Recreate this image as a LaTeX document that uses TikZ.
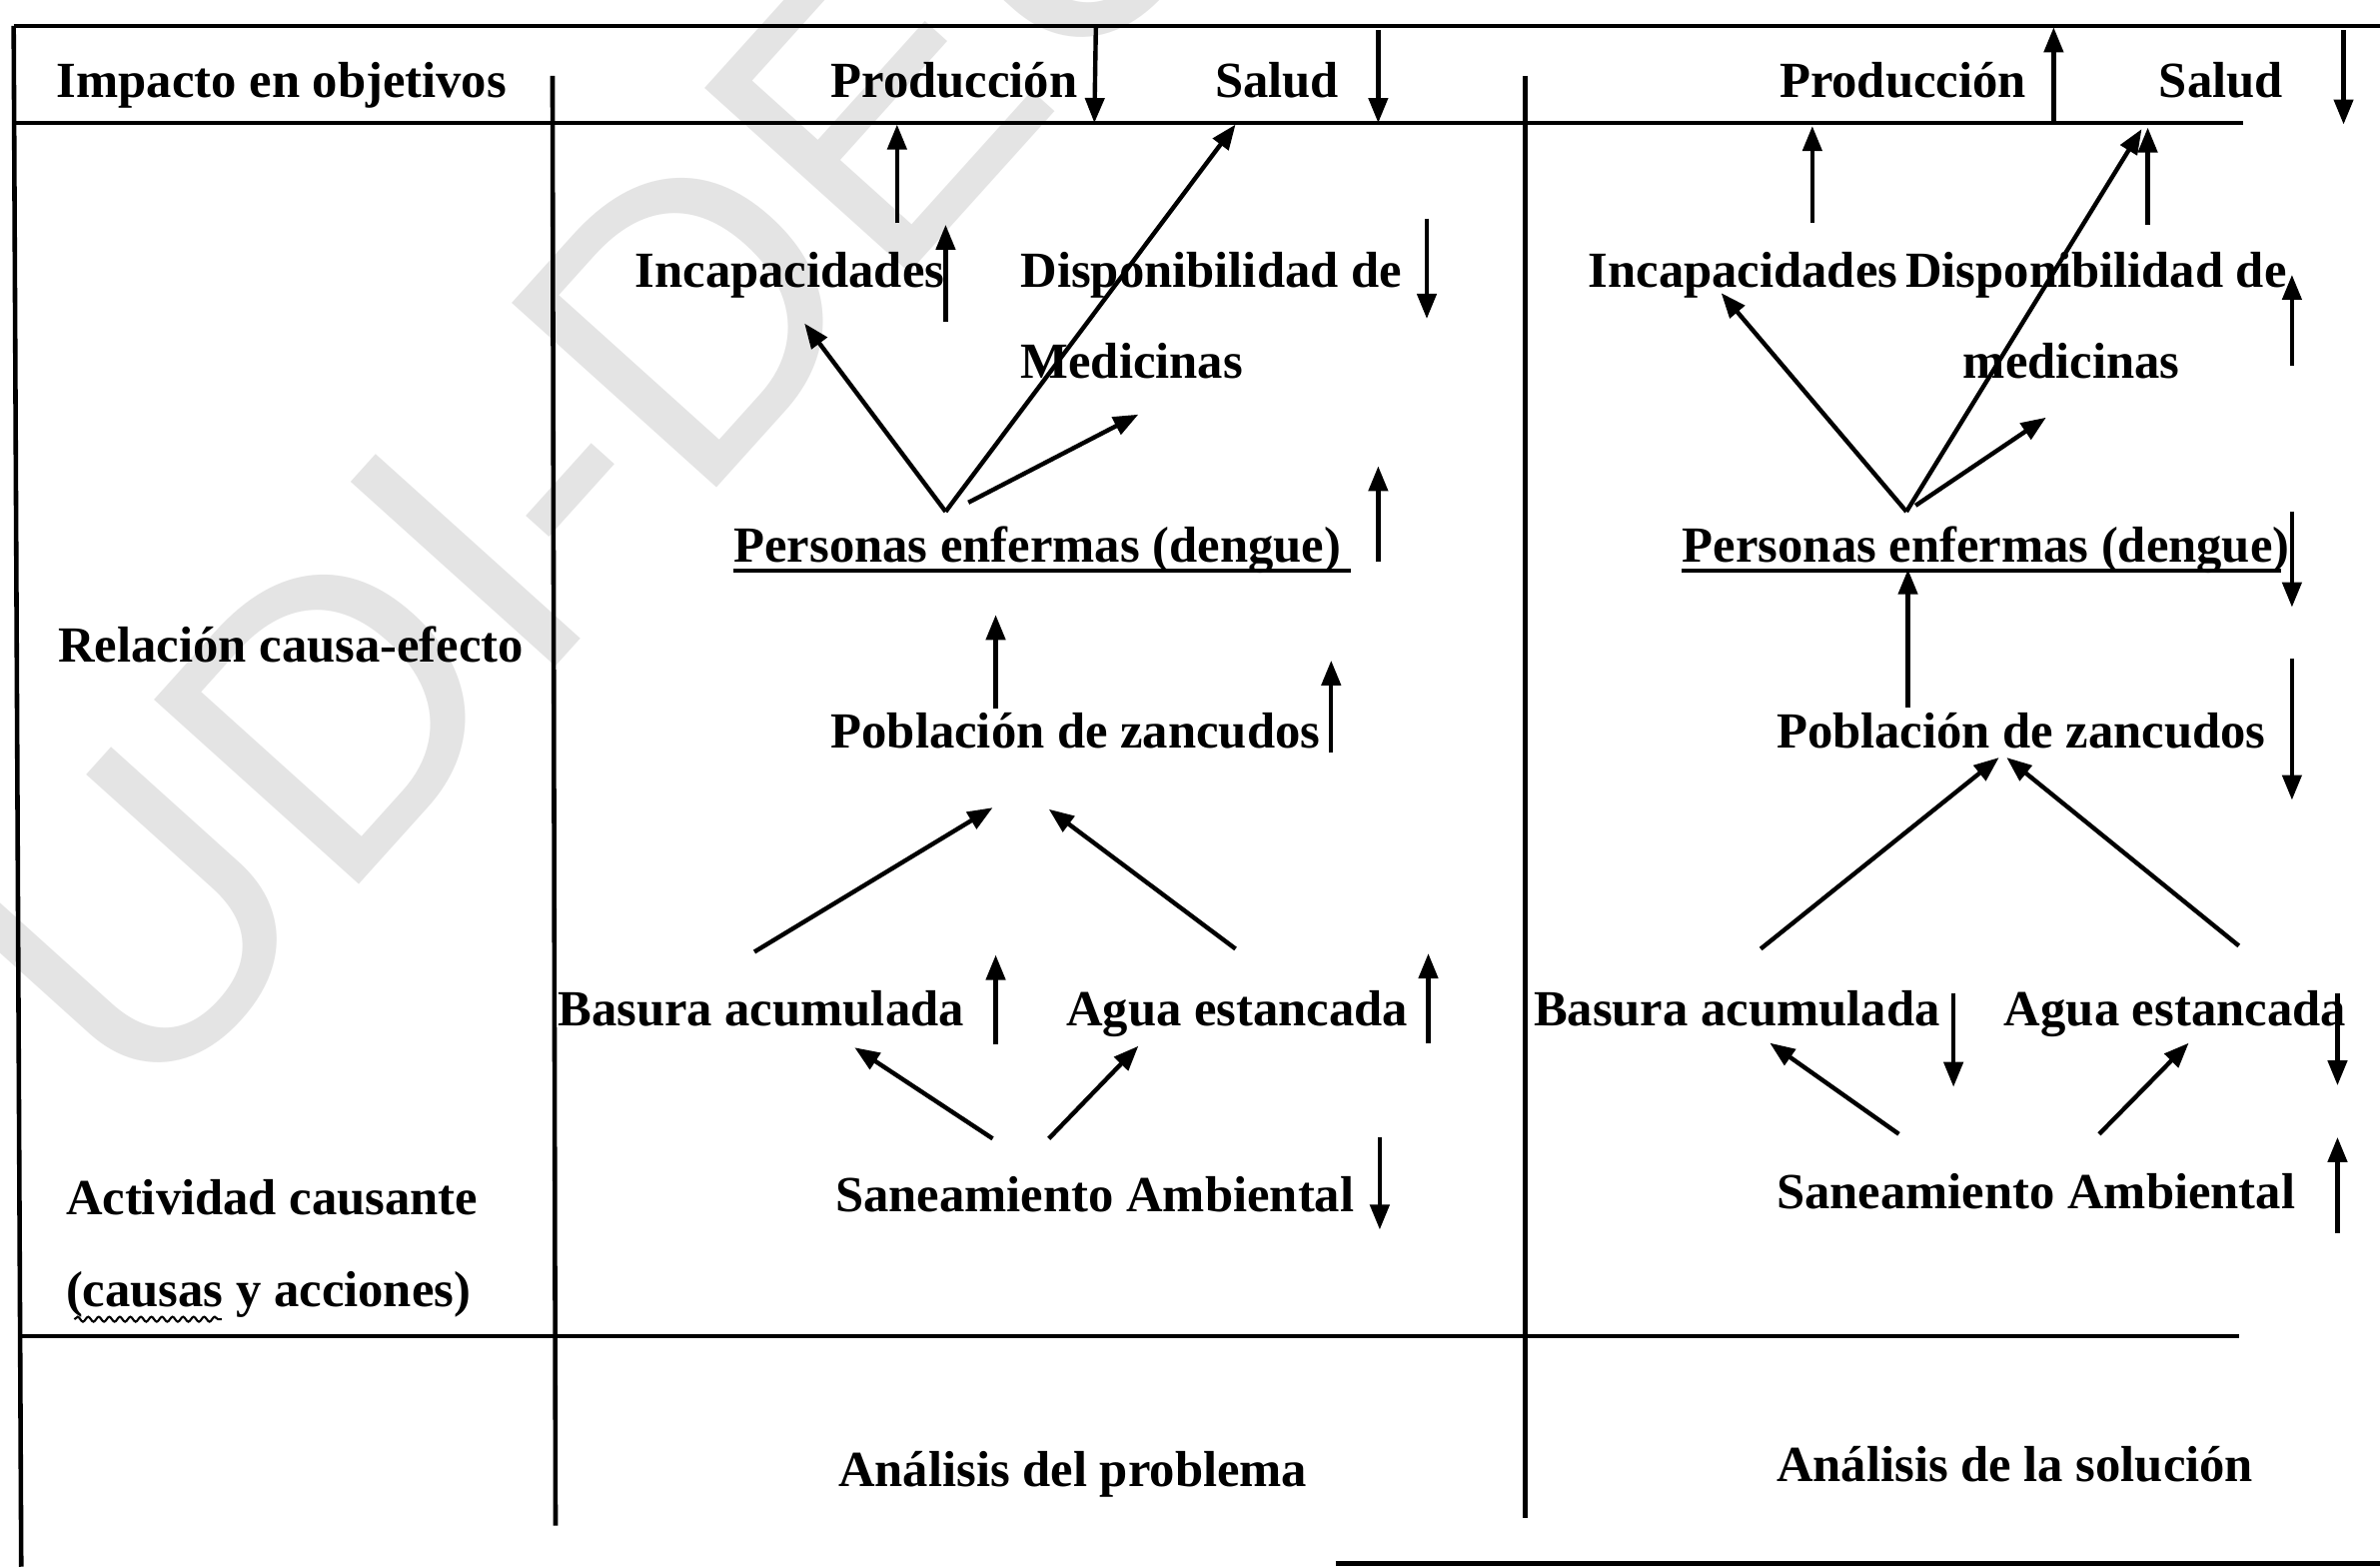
\documentclass[tikz,border=0pt]{standalone}
\usepackage{fontspec}
\setmainfont{Liberation Serif}
\newfontfamily\marcafont{Liberation Sans}
\usetikzlibrary{arrows.meta,decorations.pathmorphing}
\definecolor{marca}{RGB}{228,228,228}
\begin{document}
\begin{tikzpicture}[x=0.01519cm,y=-0.01519cm,
  rule/.style={line width=1.3pt},
  arr/.style={line width=1.25pt,-{Triangle[length=2.5mm,width=1.9mm]}},
  lbl/.style={anchor=base west,inner sep=0pt,font=\fontsize{14.4}{17}\selectfont\bfseries}]
\useasboundingbox (0,0) rectangle (1568,1032);
\fill[white] (0,0) rectangle (1568,1032);

% background watermark
\node[rotate=48,text=marca,inner sep=0pt,
      font=\fontsize{114}{114}\selectfont\marcafont] (marca) at (396,272) {UDI-DEU};

% table rules
\draw[rule] (9,17) -- (1568,17);
\draw[rule] (9,81) -- (1478,81);
\draw[rule] (12,880) -- (1475,880);
\draw[rule] (880,1030) -- (1568,1030);
\draw[rule] (9,17) -- (14,1032);
\draw[rule] (364,50) -- (366,1005);
\draw[rule] (1005,50) -- (1005,1000);

% row headings
\node[lbl] (impacto)   at (37,64)  {Impacto en objetivos};
\node[lbl] (relacion)  at (38,436) {Relación causa-efecto};
\node[lbl] (actividad) at (43,800) {Actividad causante};
\node[lbl] (acciones)  at (43,861) {(causas y acciones)};
\draw[line width=0.6pt,decorate,decoration={snake,amplitude=0.7pt,segment length=3pt}]
  (49,869) -- (146,869);

% problem analysis
\node[lbl] (prodP)  at (547,64)  {Producción};
\node[lbl] (saludP) at (800,64)  {Salud};
\node[lbl] (incP)   at (418,189) {Incapacidades};
\node[lbl] (dispP)  at (672,189) {Disponibilidad de};
\node[lbl] (medP)   at (672,249) {Medicinas};
\node[lbl] (persP)  at (483,370) {Personas enfermas (dengue)};
\draw[rule] (483,376) -- (890,376);
\node[lbl] (poblP)  at (547,493) {Población de zancudos};
\node[lbl] (basP)   at (367,676) {Basura acumulada};
\node[lbl] (aguaP)  at (702,676) {Agua estancada};
\node[lbl] (sanP)   at (550,798) {Saneamiento Ambiental};
\node[lbl] (anaP)   at (552,979) {Análisis del problema};

% solution analysis
\node[lbl] (prodS)  at (1172,64)  {Producción};
\node[lbl] (saludS) at (1422,64)  {Salud};
\node[lbl] (incS)   at (1046,189) {Incapacidades};
\node[lbl] (dispS)  at (1255,189) {Disponibilidad de};
\node[lbl] (medS)   at (1293,249) {medicinas};
\node[lbl] (persS)  at (1108,370) {Personas enfermas (dengue)};
\draw[rule] (1108,376) -- (1503,376);
\node[lbl] (poblS)  at (1170,493) {Población de zancudos};
\node[lbl] (basS)   at (1010,676) {Basura acumulada};
\node[lbl] (aguaS)  at (1320,676) {Agua estancada};
\node[lbl] (sanS)   at (1170,796) {Saneamiento Ambiental};
\node[lbl] (anaS)   at (1170,976) {Análisis de la solución};

% arrows: name / start / tip
\foreach \n/\xa/\ya/\xb/\yb in {
  p1/722/18/721/81,   p2/908/20/908/81,   p3/591/147/591/82,
  p4/623/212/623/148, p5/940/144/940/210, p6/623/337/530/213,
  p7/623/337/814/82,  p8/638/331/750/273, p9/908/370/908/307,
  p10/656/467/656/405, p11/877/496/877/435, p12/497/627/654/532,
  p13/814/625/691/533, p14/656/688/656/629, p15/941/687/941/628,
  p16/654/750/563/690, p17/691/750/750/689, p18/909/749/909/810,
  s1/1353/81/1353/18,  s2/1544/20/1544/82,  s3/1194/147/1194/83,
  s4/1415/148/1415/84, s5/1510/241/1510/181, s6/1256/337/1134/193,
  s7/1256/337/1411/85, s8/1262/333/1348/275, s9/1510/337/1510/400,
  s10/1257/466/1257/375, s11/1510/434/1510/527, s12/1160/625/1317/499,
  s13/1475/623/1322/499, s14/1287/654/1287/716, s15/1540/654/1540/715,
  s16/1251/747/1166/687, s17/1383/747/1442/687, s18/1540/812/1540/749}
{
  \coordinate (\n a) at (\xa,\ya);
  \coordinate (\n b) at (\xb,\yb);
  \draw[arr] (\n a) -- (\n b);
}
\end{tikzpicture}
\end{document}
